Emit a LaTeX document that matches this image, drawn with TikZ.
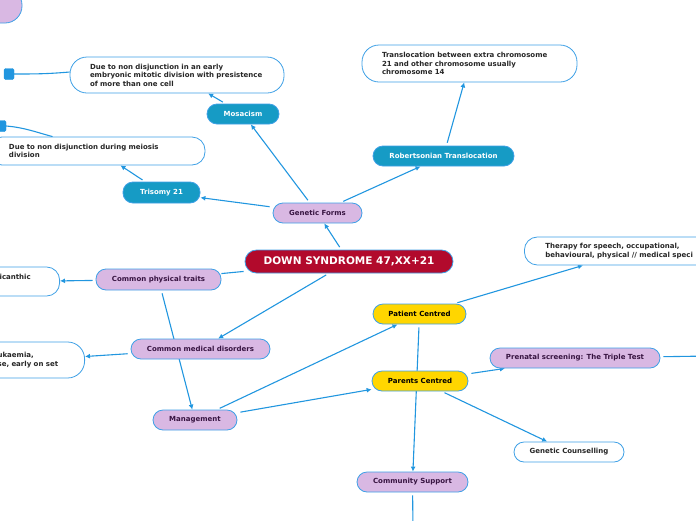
\documentclass[tikz,border=0pt]{standalone}
\usepackage{fontspec}
\setmainfont{DejaVu Sans}
\usetikzlibrary{arrows.meta,backgrounds}
\definecolor{linkblue}{RGB}{33,150,223}
\definecolor{edgeblue}{RGB}{62,160,230}
\definecolor{formteal}{RGB}{22,155,197}
\definecolor{topicpurple}{RGB}{217,184,227}
\definecolor{topictext}{RGB}{55,20,65}
\definecolor{caregold}{RGB}{255,214,0}
\definecolor{rootred}{RGB}{178,10,44}
\tikzset{
  flowarrow/.style={-{Latex[length=5pt,width=5pt]}, line width=1.1pt, linkblue, shorten <=3pt},
  plainlink/.style={line width=1.1pt, linkblue},
  pill/.style={draw=edgeblue, line width=0.8pt, rounded corners=10pt, minimum height=20pt, inner sep=0pt, font=\fontsize{7}{8.6}\selectfont\bfseries},
  formnode/.style={pill, fill=formteal, text=white},
  topicnode/.style={pill, fill=topicpurple, text=topictext},
  carenode/.style={pill, fill=caregold, text=black},
  plainnode/.style={pill, fill=white, text=black!85},
  rootnode/.style={pill, fill=rootred, text=white, rounded corners=11.5pt, minimum height=23pt, font=\fontsize{10.5}{12}\selectfont\bfseries},
  notebox/.style={draw=edgeblue, line width=0.8pt, fill=white, align=left, inner xsep=20pt, inner ysep=0pt, text=black!85, font=\fontsize{7}{8.6}\selectfont\bfseries},
  linkend/.style={draw=linkblue, fill=linkblue, rounded corners=1.5pt, minimum width=10pt, minimum height=11pt, inner sep=0pt}
}

\begin{document}
\begin{tikzpicture}[x=1pt, y=-1pt]
  \useasboundingbox (0,0) rectangle (696,520);
  \clip (0,0) rectangle (696,520);

  % centre and genetic forms
  \node[rootnode, minimum width=208pt] (root) at (349,261.5) {DOWN SYNDROME 47,XX+21};
  \node[topicnode, minimum width=89pt] (genetic) at (317.5,213) {Genetic Forms};
  \node[formnode, minimum width=72pt] (mosaic) at (243,114) {Mosacism};
  \node[formnode, minimum width=77pt, minimum height=21pt] (trisomy) at (161.5,192.5) {Trisomy 21};
  \node[formnode, minimum width=141pt] (robert) at (443.5,156) {Robertsonian Translocation};
  \node[notebox, text width=174pt, minimum height=36pt, rounded corners=17pt] (mosdesc) at (177,75)
    {Due to non disjunction in an early\\embryonic mitotic division with presistence\\of more than one cell};
  \node[notebox, text width=176pt, minimum height=28pt, rounded corners=13pt] (trisdesc) at (97,151)
    {Due to non disjunction during meiosis\\division};
  \node[notebox, text width=175pt, minimum height=37pt, rounded corners=17pt] (transdesc) at (469.5,63.5)
    {Translocation between extra chromosome\\21 and other chromosome usually\\chromosome 14};
  \node[topicnode, minimum width=82pt, minimum height=35pt, rounded corners=17pt] (topblob) at (-19,5.5) {};
  \node[linkend] (sqA) at (9,74) {};
  \node[linkend] (sqB) at (1,126) {};

  % traits and disorders
  \node[topicnode, minimum width=125pt, minimum height=21pt] (physical) at (158.5,279.5) {Common physical traits};
  \node[topicnode, minimum width=139pt] (medical) at (200.5,349) {Common medical disorders};
  \node[notebox, anchor=east, text width=45pt, minimum height=29pt, rounded corners=13pt] (epidesc) at (60,281.5)
    {picanthic\\\phantom{x}};
  \node[notebox, anchor=east, text width=67pt, minimum height=36pt, rounded corners=17pt] (leukdesc) at (85,360)
    {ukaemia,\\se, early on set};

  % management
  \node[topicnode, minimum width=84pt] (mgmt) at (195,420) {Management};
  \node[carenode, minimum width=93pt] (patient) at (419.5,314) {Patient Centred};
  \node[carenode, minimum width=96pt] (parents) at (420,381) {Parents Centred};
  \node[topicnode, minimum width=170pt] (prenatal) at (575,358) {Prenatal screening: The Triple Test};
  \node[plainnode, minimum width=110pt] (counsel) at (569,452) {Genetic Counselling};
  \node[topicnode, minimum width=111pt] (community) at (412.5,482) {Community Support};
  \node[notebox, anchor=west, inner xsep=21pt, text width=200pt, minimum height=28pt, rounded corners=13pt] (therapy) at (524,251)
    {Therapy for speech, occupational,\\behavioural, physical // medical speci};
  \coordinate (prenatalEnd) at (710,356);
  \coordinate (communityEnd) at (413,530);

  \begin{pgfonlayer}{background}
    \draw[flowarrow] (root) -- (genetic);
    \draw[flowarrow] (genetic) -- (trisomy);
    \draw[flowarrow] (genetic) -- (mosaic);
    \draw[flowarrow] (genetic) -- (robert);
    \draw[flowarrow] (mosaic) -- (mosdesc);
    \draw[flowarrow] (trisomy) -- ([xshift=-85pt]trisdesc.south east);
    \draw[flowarrow] (robert) -- (transdesc);
    \draw[plainlink] (sqA.east) to[out=0, in=185] ([yshift=3pt]mosdesc.west);
    \draw[plainlink] (sqB.east) to[out=-5, in=165] ([xshift=64pt]trisdesc.north west);
    \draw[plainlink, shorten <=1pt] (root) -- (physical);
    \draw[flowarrow] (physical) -- (epidesc);
    \draw[flowarrow] (root) -- (medical);
    \draw[flowarrow] (medical) -- (leukdesc);
    \draw[flowarrow] (physical) -- (mgmt);
    \draw[flowarrow] (mgmt) -- (patient);
    \draw[flowarrow] (mgmt) -- (parents);
    \draw[flowarrow] (patient) -- ([xshift=59pt]therapy.south west);
    \draw[flowarrow] (patient) -- (community);
    \draw[flowarrow] (parents) -- (prenatal);
    \draw[flowarrow] (parents) -- (counsel);
    \draw[plainlink, shorten <=3pt] (prenatal) -- (prenatalEnd);
    \draw[plainlink, shorten <=3pt] (community) -- (communityEnd);
  \end{pgfonlayer}
\end{tikzpicture}
\end{document}
